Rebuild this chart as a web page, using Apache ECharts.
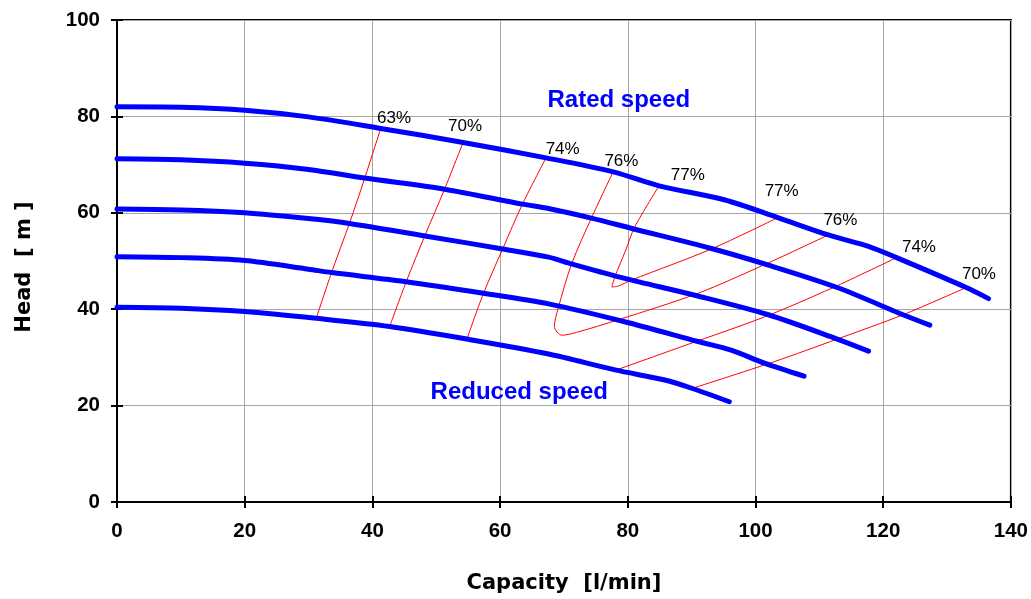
<!DOCTYPE html>
<html>
<head>
<meta charset="utf-8">
<script src="https://cdn.jsdelivr.net/npm/echarts@6/dist/echarts.min.js"></script>
<style>html,body{margin:0;padding:0;background:#fff;}#c{width:1031px;height:599px;}</style>
</head>
<body>
<div id="c"></div>
<script>
// Pump head curves [capacity l/min, head m]
const curveRated = [[0,82],[10,81.9],[20,81.3],[30,79.9],[41.3,77.5],[54.2,74.6],[67.2,71.4],[77.7,68.5],[84.9,65.6],[95.1,62.7],[103.5,59.0],[111.4,55.4],[117.8,53.0],[122.1,50.7],[133.0,44.5],[136.5,42.2]];
const curve2 = [[0,71.2],[10,71.0],[20,70.3],[30,69.0],[38.8,67.2],[51.3,64.9],[63.5,61.8],[67.6,60.9],[74.3,58.9],[80.8,56.7],[93.1,52.6],[101.9,49.2],[112.8,44.5],[123.2,38.8],[127.3,36.7]];
const curve3 = [[0,60.8],[10,60.6],[20,60.0],[30,58.8],[36.4,57.8],[48.2,55.2],[60.4,52.5],[67.6,50.8],[71.2,49.4],[79.5,46.4],[90.5,42.9],[101.9,38.9],[112.8,33.8],[117.7,31.3]];
const curve4 = [[0,50.9],[10,50.7],[20,50.1],[30,48.3],[33.6,47.6],[45.3,45.7],[57.4,43.3],[67.6,41.1],[79.5,37.4],[91.0,33.3],[96.2,31.5],[101.4,28.8],[107.6,26.1]];
const curveReduced = [[0,40.4],[10,40.2],[20,39.5],[31.2,38.1],[42.7,36.4],[54.8,33.8],[67.6,30.7],[78.0,27.4],[85.8,25.3],[90.0,23.6],[95.9,20.8]];

// Iso-efficiency lines
const eff63 = [[41.3,77.5],[38.8,67.2],[36.4,57.8],[33.6,47.6],[31.2,38.1]];
const eff70a = [[54.2,74.6],[51.3,64.9],[48.2,55.2],[45.3,45.7],[42.7,36.4]];
const eff74a = [[67.2,71.4],[63.5,61.8],[60.4,52.5],[57.4,43.3],[54.8,33.8]];
const eff76 = [[77.7,68.5],[74.3,58.9],[71.2,49.4],[69.1,40.2],[68.5,36.4],[69.7,34.6],[72.0,35.2],[78.5,37.8],[91.0,43.3],[101.5,49.3],[111.4,55.4]];
const eff77 = [[84.9,65.6],[81.1,57.1],[79.6,52.0],[78.0,46.8],[77.5,44.6],[78.5,44.8],[80.5,46.0],[93.1,52.5],[103.5,59.0]];
const eff74b = [[77.8,27.2],[89.0,32.5],[101.4,38.4],[112.0,44.4],[122.1,50.7]];
const eff70b = [[89.7,23.4],[102.9,29.1],[112.8,33.8],[123.2,38.9],[133.0,44.5]];

// Efficiency labels [x, y, text]
const effLabels = [[43.4,79.6,'63%'],[54.5,78.0,'70%'],[69.8,73.2,'74%'],[79.0,70.6,'76%'],[89.4,67.8,'77%'],[104.1,64.5,'77%'],[113.3,58.4,'76%'],[125.6,52.8,'74%'],[135.0,47.2,'70%']];
// Speed annotations [x, y, text]
const speedLabels = [[78.6,83.3,'Rated speed'],[63.0,22.8,'Reduced speed']];

const xTicks = [0,20,40,60,80,100,120,140];
const yTicks = [0,20,40,60,80,100];

const blue = '#0000ff', red = '#ff0000';
const headCurves = [curveRated, curve2, curve3, curve4, curveReduced];
const effLines = [eff63, eff70a, eff74a, eff76, eff77, eff74b, eff70b];

const series = [];
effLines.forEach(d => series.push({type:'line', data:d, symbol:'none', smooth:0.3, lineStyle:{color:red, width:1, opacity:1}, z:2, silent:true}));
headCurves.forEach(d => series.push({type:'line', data:d, symbol:'none', smooth:0.3, lineStyle:{color:blue, width:5, cap:'round', opacity:1}, z:3, silent:true}));
series.push({type:'scatter', symbolSize:0, z:5, silent:true, itemStyle:{opacity:1}, data: effLabels.map(l => ({value:[l[0], l[1]], name:l[2]})),
  label:{show:true, position:'inside', formatter:p=>p.name, color:'#000', opacity:1, fontFamily:'Liberation Sans', fontSize:17}});
series.push({type:'scatter', symbolSize:0, z:5, silent:true, itemStyle:{opacity:1}, data: speedLabels.map(l => ({value:[l[0], l[1]], name:l[2]})),
  label:{show:true, position:'inside', formatter:p=>p.name, color:blue, opacity:1, fontFamily:'Liberation Sans', fontWeight:'bold', fontSize:24}});

const chart = echarts.init(document.getElementById('c'), null, {renderer:'canvas'});
chart.setOption({
  animation:false,
  backgroundColor:'#fff',
  grid:{left:117, right:17, top:20, bottom:97, show:true, borderColor:'#000', borderWidth:2, backgroundColor:'transparent'},
  xAxis:[{
    type:'value', min:xTicks[0], max:xTicks[xTicks.length-1], interval:20,
    name:'Capacity  [l/min]', nameLocation:'middle', nameGap:71,
    nameTextStyle:{fontFamily:'DejaVu Sans', fontWeight:'bold', fontSize:21, color:'#000'},
    axisLine:{show:true, lineStyle:{color:'#000', width:2}},
    axisTick:{show:true, length:6, lineStyle:{color:'#000', width:2}},
    axisLabel:{margin:19, fontFamily:'Liberation Sans', fontWeight:'bold', fontSize:20.5, color:'#000'},
    splitLine:{show:true, lineStyle:{color:'#a6a6a6', width:1}}
  },{
    type:'value', min:xTicks[0], max:xTicks[xTicks.length-1], interval:20, position:'bottom',
    axisLine:{show:false}, axisLabel:{show:false}, splitLine:{show:false},
    axisTick:{show:true, inside:true, length:6, lineStyle:{color:'#000', width:2}}
  }],
  yAxis:[{
    type:'value', min:yTicks[0], max:yTicks[yTicks.length-1], interval:20,
    name:'Head  [ m ]', nameLocation:'middle', nameGap:82,
    nameTextStyle:{fontFamily:'DejaVu Sans', fontWeight:'bold', fontSize:21, color:'#000', padding:[0,12,0,0]},
    axisLine:{show:true, lineStyle:{color:'#000', width:2}},
    axisTick:{show:true, length:6, lineStyle:{color:'#000', width:2}},
    axisLabel:{margin:17, fontFamily:'Liberation Sans', fontWeight:'bold', fontSize:20.5, color:'#000'},
    splitLine:{show:true, lineStyle:{color:'#a6a6a6', width:1}}
  },{
    type:'value', min:yTicks[0], max:yTicks[yTicks.length-1], interval:20, position:'left',
    axisLine:{show:false}, axisLabel:{show:false}, splitLine:{show:false},
    axisTick:{show:true, inside:true, length:6, lineStyle:{color:'#000', width:2}}
  }],
  series: series
});
</script>
</body>
</html>
